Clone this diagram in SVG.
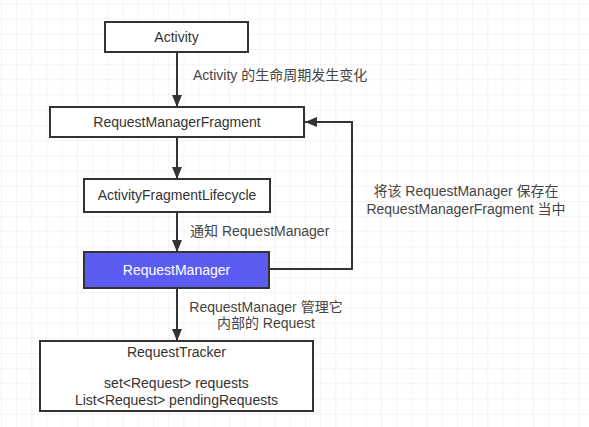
<svg xmlns="http://www.w3.org/2000/svg" width="589" height="427" viewBox="0 0 589 427">
  <style>
    .box { fill: #ffffff; stroke: #333333; stroke-width: 2; }
    .blue { fill: #5c5cf2; stroke: #333333; stroke-width: 2; }
    .t { font-family: "Liberation Sans", "Noto Sans CJK SC", sans-serif; font-size: 14px; fill: #333333; text-anchor: middle; }
    .tw { fill: #ffffff; }
    .lbl { font-family: "Liberation Sans", "Noto Sans CJK SC", sans-serif; font-size: 14px; fill: #444444; }
    .edge { fill: none; stroke: #333333; stroke-width: 2; }
  </style>
  <defs>
    <pattern id="grid" patternUnits="userSpaceOnUse" x="1" y="3.4" width="15.2" height="15.2">
      <path d="M0 0 H15.2 M0 0 V15.2" fill="none" stroke="#e9e9e9" stroke-width="1"/>
    </pattern>
    <marker id="arr" viewBox="0 0 12 10" refX="12" refY="5" markerWidth="12" markerHeight="10" markerUnits="userSpaceOnUse" orient="auto">
      <path d="M0 0 L12 5 L0 10 Z" fill="#333333"/>
    </marker>
  </defs>
  <rect width="589" height="427" fill="#ffffff"/>
  <rect width="589" height="427" fill="url(#grid)"/>

  <g id="connectors">
    <line class="edge" x1="177" y1="52" x2="177" y2="107" marker-end="url(#arr)"/>
    <line class="edge" x1="177" y1="137" x2="177" y2="179" marker-end="url(#arr)"/>
    <line class="edge" x1="177" y1="212" x2="177" y2="252" marker-end="url(#arr)"/>
    <line class="edge" x1="177" y1="288" x2="177" y2="341" marker-end="url(#arr)"/>
    <polyline class="edge" points="269,269 352,269 352,122 305,122" marker-end="url(#arr)"/>
    <text class="lbl" x="193" y="80">Activity 的生命周期发生变化</text>
    <text class="lbl" x="190" y="236">通知 RequestManager</text>
    <text class="lbl" x="466" y="196" text-anchor="middle">将该 RequestManager 保存在</text>
    <text class="lbl" x="466" y="214" text-anchor="middle">RequestManagerFragment 当中</text>
    <text class="lbl" x="266" y="312" text-anchor="middle">RequestManager 管理它</text>
    <text class="lbl" x="266" y="328" text-anchor="middle">内部的 Request</text>
  </g>

  <g id="activity">
    <rect class="box" x="105" y="22" width="143" height="30"/>
    <text class="t" x="176.5" y="42">Activity</text>
  </g>
  <g id="requestManagerFragment">
    <rect class="box" x="50" y="107" width="254" height="30"/>
    <text class="t" x="177" y="127">RequestManagerFragment</text>
  </g>
  <g id="activityFragmentLifecycle">
    <rect class="box" x="84" y="179" width="186" height="33"/>
    <text class="t" x="177" y="200">ActivityFragmentLifecycle</text>
  </g>
  <g id="requestManager">
    <rect class="blue" x="84" y="252" width="185" height="36"/>
    <text class="t tw" x="176.5" y="275">RequestManager</text>
  </g>
  <g id="requestTracker">
    <rect class="box" x="40" y="341" width="273" height="70"/>
    <text class="t" x="176.5" y="357">RequestTracker</text>
    <text class="t" x="176.5" y="388">set&lt;Request&gt; requests</text>
    <text class="t" x="176.5" y="405">List&lt;Request&gt; pendingRequests</text>
  </g>
</svg>
